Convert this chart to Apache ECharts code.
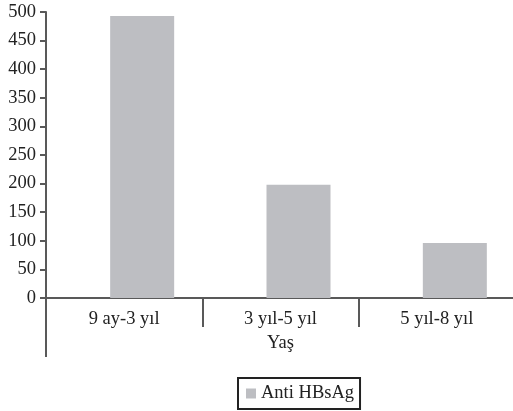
<!DOCTYPE html>
<html>
<head>
<meta charset="utf-8">
<script src="https://cdn.jsdelivr.net/npm/echarts@6/dist/echarts.min.js"></script>
<style>html,body{margin:0;padding:0;background:#fff}#c{width:513px;height:411px}</style>
</head>
<body>
<div id="c"></div>
<script>
const categories = ['9 ay-3 yıl', '3 yıl-5 yıl', '5 yıl-8 yıl'];
const values = [493, 198, 96];
const seriesName = 'Anti HBsAg';
const axisTitle = 'Yaş';
const yMin = 0, yMax = 500, yStep = 50;

const font = 'Liberation Serif';
const axisColor = '#595959';
const textColor = '#222';

const chart = echarts.init(document.getElementById('c'), null, {renderer: 'canvas'});
chart.setOption({
  animation: false,
  grid: [
    {left: 46, top: 12, right: -2, bottom: 113, containLabel: false, outerBoundsMode: 'none'},
    {left: 46, top: 12, width: 2000, bottom: 113, containLabel: false, outerBoundsMode: 'none'}
  ],
  legend: {
    data: [seriesName],
    left: 238, top: 378,
    padding: [6, 6, 6, 8],
    borderColor: '#222', borderWidth: 2,
    itemWidth: 10, itemHeight: 10, itemGap: 5,
    icon: 'rect',
    textStyle: {fontFamily: font, fontSize: 18.5, color: textColor}
  },
  xAxis: [{
    type: 'category',
    gridIndex: 0,
    data: categories,
    name: axisTitle,
    nameLocation: 'middle',
    nameGap: 35,
    nameTextStyle: {fontFamily: font, fontSize: 18.5, color: textColor},
    axisLine: {lineStyle: {color: axisColor, width: 2}},
    axisTick: {show: true, length: 29, alignWithLabel: false, lineStyle: {color: axisColor, width: 2}},
    axisLabel: {margin: 12, fontFamily: font, fontSize: 18.5, color: textColor}
  }, {
    type: 'category',
    gridIndex: 1,
    data: [''],
    position: 'bottom',
    axisLine: {show: false},
    axisTick: {show: true, length: 59, alignWithLabel: false, lineStyle: {color: axisColor, width: 2}},
    axisLabel: {show: false}
  }],
  yAxis: [{
    type: 'value',
    gridIndex: 0,
    min: yMin, max: yMax, interval: yStep,
    axisLine: {show: true, lineStyle: {color: axisColor, width: 2}},
    axisTick: {show: true, length: 6, lineStyle: {color: axisColor, width: 2}},
    splitLine: {show: false},
    axisLabel: {margin: 10, fontFamily: font, fontSize: 18.5, color: textColor}
  }, {
    type: 'value',
    gridIndex: 1,
    show: false
  }],
  series: [{
    name: '_spacer',
    type: 'bar',
    xAxisIndex: 0, yAxisIndex: 0,
    data: categories.map(() => null),
    barWidth: 64,
    barGap: '-43.75%',
    itemStyle: {color: 'rgba(0,0,0,0)'},
    silent: true
  }, {
    name: seriesName,
    type: 'bar',
    xAxisIndex: 0, yAxisIndex: 0,
    data: values,
    barWidth: 64,
    barGap: '-43.75%',
    itemStyle: {color: '#bdbec2'}
  }]
});
</script>
</body>
</html>
